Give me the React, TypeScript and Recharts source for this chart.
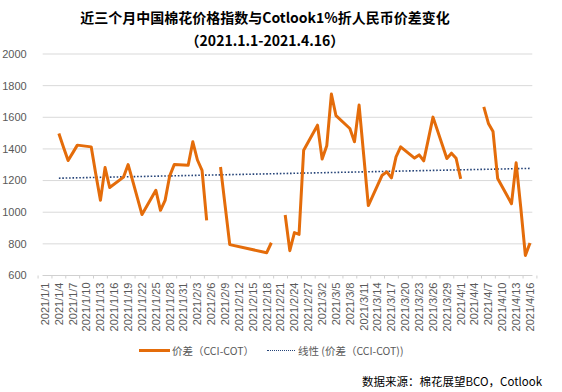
import React from 'react';

import { CartesianGrid, Line, LineChart, XAxis, YAxis } from 'recharts';

// 价差 (CCI-COT), trading days only; null = blank cell in the source sheet
const tradeDates = [
  '1/4', '1/5', '1/6', '1/7', '1/8', '1/11', '1/12', '1/13', '1/14', '1/15',
  '1/18', '1/19', '1/20', '1/21', '1/22', '1/25', '1/26', '1/27', '1/28', '1/29',
  '2/1', '2/2', '2/3', '2/4', '2/5', '2/7', '2/8', '2/9', '2/10', '2/18',
  '2/19', '2/20', '2/22', '2/23', '2/24', '2/25', '2/26', '3/1', '3/2', '3/3',
  '3/4', '3/5', '3/8', '3/9', '3/10', '3/11', '3/12', '3/15', '3/16', '3/17',
  '3/18', '3/19', '3/22', '3/23', '3/24', '3/25', '3/26', '3/29', '3/30', '3/31',
  '4/1', '4/2', '4/6', '4/7', '4/8', '4/9', '4/12', '4/13', '4/14', '4/15',
  '4/16',
];
const spread: (number | null)[] = [
  1498, 1410, 1327, 1375, 1424, 1413, 1240, 1075, 1282, 1156,
  1222, 1301, 1196, 1090, 985, 1139, 1012, 1075, 1230, 1302,
  1297, 1445, 1330, 1265, 949, null, 1286, 1040, 795, 744,
  807, null, 982, 757, 871, 860, 1392, 1550, 1336, 1420,
  1747, 1610, 1529, 1445, 1677, 1360, 1042, 1234, 1255, 1217,
  1350, 1413, 1342, 1362, 1325, 1462, 1601, 1339, 1373, 1341,
  1211, null, 1666, 1561, 1510, 1213, 1054, 1312, 1030, 727,
  806,
];

// 线性 (价差（CCI-COT)) end points
const trendDates = ['1/4', '4/16'];
const trendValues = [1215, 1277];

const yTicks = [600, 800, 1000, 1200, 1400, 1600, 1800, 2000];
const tickLabels = [
  '2021/1/1', '2021/1/4', '2021/1/7', '2021/1/10', '2021/1/13', '2021/1/16',
  '2021/1/19', '2021/1/22', '2021/1/25', '2021/1/28', '2021/1/31', '2021/2/3',
  '2021/2/6', '2021/2/9', '2021/2/12', '2021/2/15', '2021/2/18', '2021/2/21',
  '2021/2/24', '2021/2/27', '2021/3/2', '2021/3/5', '2021/3/8', '2021/3/11',
  '2021/3/14', '2021/3/17', '2021/3/20', '2021/3/23', '2021/3/26', '2021/3/29',
  '2021/4/1', '2021/4/4', '2021/4/7', '2021/4/10', '2021/4/13', '2021/4/16',
];

const dayIndex = (s: string): number => {
  const parts = s.split('/').map(Number);
  const [m, d] = parts.length === 3 ? [parts[1], parts[2]] : parts;
  return Math.round((Date.UTC(2021, m - 1, d) - Date.UTC(2021, 0, 1)) / 86400000);
};

const data = tradeDates.map((d, i) => {
  const t = trendDates.indexOf(d);
  return { day: dayIndex(d), spread: spread[i], trend: t >= 0 ? trendValues[t] : null };
});

const tickDays = tickLabels.map(dayIndex);
const labelByDay: Record<number, string> = {};
tickLabels.forEach((l, i) => (labelByDay[tickDays[i]] = l));

const W = 562;
const H = 392;
const PLOT_LEFT = 42.7;
const PLOT_RIGHT = 532.3;
const PX_PER_DAY = (PLOT_RIGHT - PLOT_LEFT) / 106;
const FONT = '"Liberation Sans", Arial, sans-serif';
const CJK = '"Noto Sans CJK SC", sans-serif';

const XTick = (props: any): JSX.Element => {
  const { x, y, payload, index } = props;
  const axisY = y - 8;
  const last = index === tickLabels.length - 1;
  return (
    <g>
      <line x1={x - 1.5 * PX_PER_DAY} x2={x - 1.5 * PX_PER_DAY} y1={axisY} y2={axisY + 3} stroke="#D0D0D0" />
      {last && <line x1={x + 1.5 * PX_PER_DAY} x2={x + 1.5 * PX_PER_DAY} y1={axisY} y2={axisY + 3} stroke="#D0D0D0" />}
      <text
        x={x}
        y={y - 1}
        transform={`rotate(-90 ${x} ${y - 1})`}
        textAnchor="end"
        dy="0.35em"
        fontSize={11}
        fontFamily={FONT}
        fill="#595959"
      >
        {labelByDay[payload.value]}
      </text>
    </g>
  );
};

const App: React.FC = (): JSX.Element => (
  <div style={{ position: 'absolute', left: 0, top: 0, width: W, height: H, background: '#fff' }}>
    <div
      style={{
        position: 'absolute',
        left: 0,
        top: 6,
        width: 530,
        textAlign: 'center',
        fontFamily: CJK,
        fontWeight: 700,
        fontSize: 14,
        lineHeight: '23px',
        color: '#000',
      }}
    >
      <div>近三个月中国棉花价格指数与Cotlook1%折人民币价差变化</div>
      <div>（2021.1.1-2021.4.16）</div>
    </div>
    <LineChart
      width={W}
      height={H}
      data={data}
      margin={{ top: 54, right: W - PLOT_RIGHT, bottom: H - 275.5 - 70, left: 0 }}
    >
      <CartesianGrid vertical={false} stroke="#D9D9D9" />
      <XAxis
        dataKey="day"
        type="number"
        domain={[-0.5, 105.5]}
        ticks={tickDays}
        interval={0}
        height={70}
        tick={<XTick />}
        tickLine={false}
        axisLine={{ stroke: '#D0D0D0' }}
      />
      <YAxis
        width={PLOT_LEFT}
        domain={[600, 2000]}
        ticks={yTicks}
        axisLine={false}
        tickLine={false}
        tickMargin={10}
        tick={{ fontSize: 11, fontFamily: FONT, fill: '#595959' }}
      />
      <Line
        dataKey="trend"
        type="linear"
        stroke="#264478"
        strokeWidth={1.6}
        strokeDasharray="1.6 1.8"
        dot={false}
        connectNulls
        isAnimationActive={false}
      />
      <Line
        dataKey="spread"
        type="linear"
        stroke="#E46C0A"
        strokeWidth={3}
        strokeLinejoin="round"
        dot={false}
        connectNulls={false}
        isAnimationActive={false}
      />
    </LineChart>
    <div style={{ position: 'absolute', left: 139, top: 349, width: 31, height: 3, background: '#E46C0A' }} />
    <div
      style={{ position: 'absolute', left: 172, top: 343, fontFamily: CJK, fontSize: 10.5, color: '#595959', whiteSpace: 'nowrap' }}
    >
      价差（CCI-COT）
    </div>
    <div style={{ position: 'absolute', left: 267, top: 350, width: 28, borderTop: '1.5px dotted #264478' }} />
    <div
      style={{ position: 'absolute', left: 298, top: 343, fontFamily: CJK, fontSize: 10.5, color: '#595959', whiteSpace: 'nowrap' }}
    >
      线性 (价差（CCI-COT))
    </div>
    <div
      style={{ position: 'absolute', left: 362, top: 373, fontFamily: CJK, fontSize: 11.5, color: '#000', whiteSpace: 'nowrap' }}
    >
      数据来源：棉花展望BCO，Cotlook
    </div>
  </div>
);

export default App;
